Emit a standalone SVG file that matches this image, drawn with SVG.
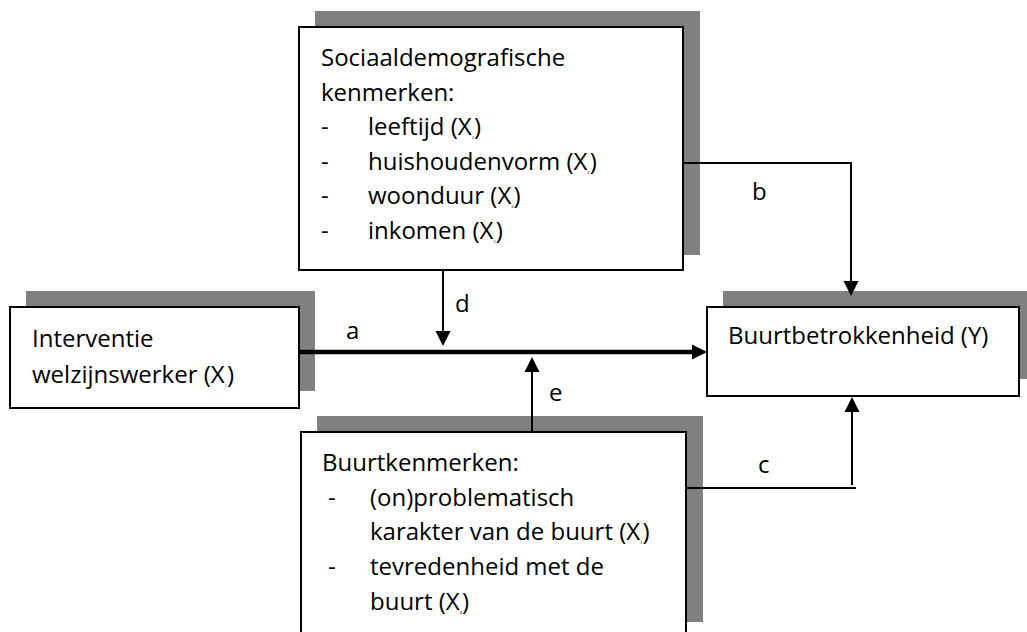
<svg xmlns="http://www.w3.org/2000/svg" width="1027" height="632" viewBox="0 0 1027 632">
<style>
.shadow{fill:#808080;stroke:none}
.box{fill:#ffffff;stroke:#000000;stroke-width:2}
text{font-family:"Open Sans","Noto Sans","DejaVu Sans",sans-serif;font-size:24px;fill:#000000}
.sub{font-size:4px}
.conn{fill:none;stroke:#000000;stroke-width:2}
.thick{fill:none;stroke:#000000;stroke-width:4.5}
.head{fill:#000000;stroke:none}
</style>
<rect width="1027" height="632" fill="#ffffff"/>
<g id="node-socio">
<rect class="shadow" x="315" y="11" width="385" height="244"/>
<rect class="box" x="299" y="27" width="384" height="243"/>
<text x="321" y="66">Sociaaldemografische</text>
<text x="321" y="100.5">kenmerken:</text>
<text x="321" y="135">-</text>
<text x="368" y="135">leeftijd (X<tspan class="sub" dy="4">2</tspan><tspan dy="-4">)</tspan></text>
<text x="321" y="169.5">-</text>
<text x="368" y="169.5">huishoudenvorm (X<tspan class="sub" dy="4">3</tspan><tspan dy="-4">)</tspan></text>
<text x="321" y="204">-</text>
<text x="368" y="204">woonduur (X<tspan class="sub" dy="4">4</tspan><tspan dy="-4">)</tspan></text>
<text x="321" y="238.5">-</text>
<text x="368" y="238.5">inkomen (X<tspan class="sub" dy="4">5</tspan><tspan dy="-4">)</tspan></text>
</g>
<g id="node-interventie">
<rect class="shadow" x="26" y="291" width="289" height="100"/>
<rect class="box" x="10" y="307" width="289" height="101"/>
<text x="32" y="347">Interventie</text>
<text x="32" y="383">welzijnswerker (X<tspan class="sub" dy="4">1</tspan><tspan dy="-4">)</tspan></text>
</g>
<g id="node-buurtbetrokkenheid">
<rect class="shadow" x="723" y="291" width="312" height="88"/>
<rect class="box" x="707" y="307" width="312" height="89"/>
<text x="728" y="344">Buurtbetrokkenheid (Y)</text>
</g>
<g id="node-buurtkenmerken">
<rect class="shadow" x="317" y="416" width="386" height="206"/>
<rect class="box" x="301" y="432" width="385" height="210"/>
<text x="322" y="471">Buurtkenmerken:</text>
<text x="328" y="505.5">-</text>
<text x="370" y="505.5">(on)problematisch</text>
<text x="370" y="540">karakter van de buurt (X<tspan class="sub" dy="4">7</tspan><tspan dy="-4">)</tspan></text>
<text x="328" y="575">-</text>
<text x="370" y="575">tevredenheid met de</text>
<text x="370" y="610">buurt (X<tspan class="sub" dy="4">8</tspan><tspan dy="-4">)</tspan></text>
</g>
<g id="connectors">
<line class="thick" x1="299" y1="352" x2="693" y2="352"/>
<polygon class="head" points="692,344.5 707,352 692,359.5"/>
<text x="346" y="339">a</text>
<line class="conn" x1="443" y1="270" x2="443" y2="332"/>
<polygon class="head" points="435.5,331 450.5,331 443,346"/>
<text x="455" y="312">d</text>
<line class="conn" x1="532" y1="432" x2="532" y2="371"/>
<polygon class="head" points="524.5,372 539.5,372 532,357"/>
<text x="549" y="401">e</text>
<polyline class="conn" points="683,163 851,163 851,282"/>
<polygon class="head" points="843.5,281 858.5,281 851,296"/>
<text x="752" y="200">b</text>
<line class="conn" x1="686" y1="488" x2="856" y2="488"/>
<line class="conn" x1="852" y1="485" x2="852" y2="411"/>
<polygon class="head" points="844.5,412 859.5,412 852,397"/>
<text x="758" y="473">c</text>
</g>
</svg>
